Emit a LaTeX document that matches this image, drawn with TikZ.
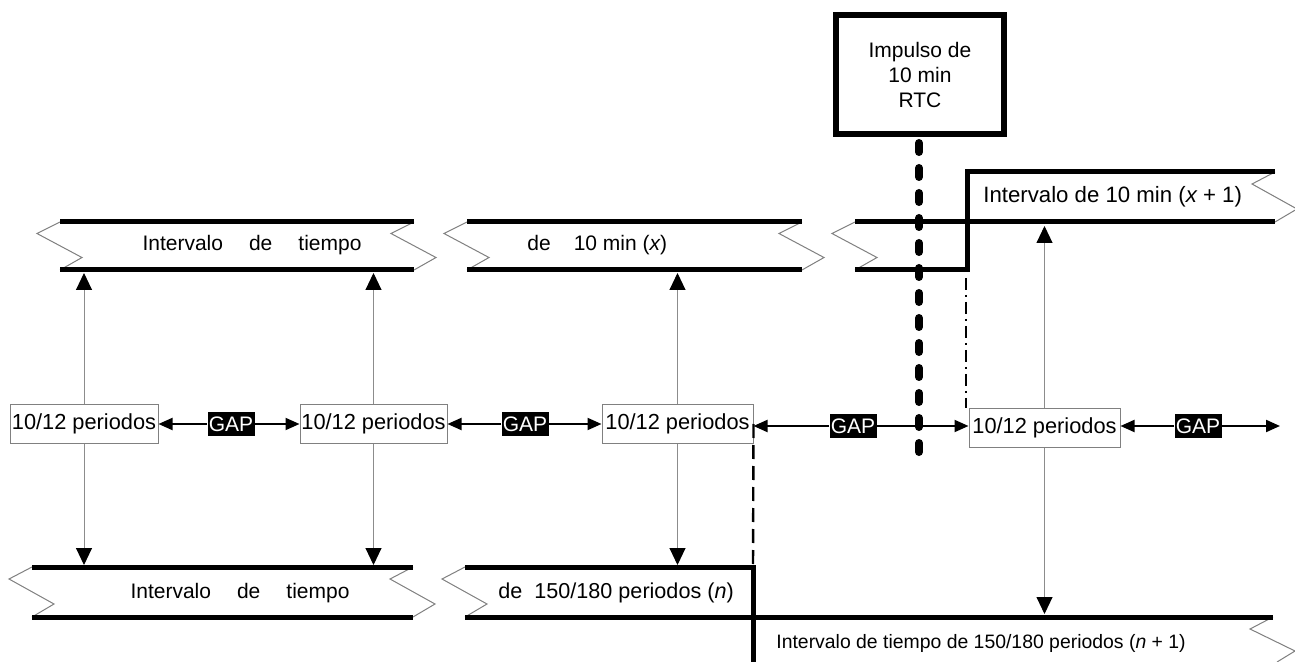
\documentclass[tikz,border=0pt]{standalone}
\usepackage{fontspec}
\setmainfont{Liberation Sans}
\usetikzlibrary{arrows.meta}

% torn-edge mark at one end of a time band: x, top y, bottom y
\newcommand\brkmark[3]{\draw[brk] (#1,#2) -- ({#1-23},{#2+0.24*(#3-#2)}) -- ({#1+22},{#2+0.74*(#3-#2)}) -- (#1,#3);}

\begin{document}
\begin{tikzpicture}[x=0.5pt,y=-0.5pt,
  every node/.style={font=\fontsize{10.5}{12.5}\selectfont, inner sep=0pt},
  band/.style={line width=2.5pt, line join=miter},
  brk/.style={draw=black!50, line width=0.5pt},
  period/.style={draw=black!50, line width=0.5pt, fill=white, minimum height=19pt, font=\fontsize{10.9}{12.5}\selectfont},
  gapbox/.style={fill=black, text=white, minimum width=23.5pt, minimum height=11.5pt},
  link/.style={draw=black!45, line width=0.5pt, -{Triangle[width=8pt,length=8.5pt,color=black]}},
  gaparrow/.style={line width=1pt, -{Triangle[width=6pt,length=7pt]}},
  pulse/.style={line width=4pt, line cap=round, dash pattern=on 4.5pt off 8pt},
  boundary/.style={line width=1.2pt, dash pattern=on 7pt off 3.5pt},
  stepmark/.style={line width=0.9pt, dash pattern=on 6pt off 2.5pt on 1pt off 2.5pt},
  rtcbox/.style={draw, line width=3pt, minimum width=84pt, minimum height=59.5pt, align=center}
]
\useasboundingbox (0,0) rectangle (1295,662);
\fill[white] (0,0) rectangle (1295,662);
\begin{scope}
\clip (0,0) rectangle (1295,662);

% ---- reference points on the band lines
\coordinate (aTop) at (0,273);   % lower edge of the upper bands
\coordinate (cTop) at (0,226);   % lower edge of band (x+1)
\coordinate (dTop) at (0,565);   % upper edge of the lower bands
\coordinate (fTop) at (0,614);   % upper edge of band (n+1)
\coordinate (eCorner) at (753,567);
\coordinate (cStep) at (966,278);
\coordinate (gEnd) at (1280,426);

% ---- upper row: 10 min intervals
\brkmark{60}{222}{270}  \brkmark{414}{222}{270}
\draw[band] (60,222) -- (414,222);
\draw[band] (60,270) -- (414,270);
\brkmark{467}{222}{270} \brkmark{802}{222}{270}
\draw[band] (467,222) -- (802,222);
\draw[band] (467,270) -- (802,270);
\brkmark{855}{222}{270} \brkmark{1275}{172}{222}
\draw[band] (855,222) -- (1275,222);
\draw[band] (855,270) -- (967,270) -- (967,172) -- (1275,172);

\node (tA) at (252,245) {Intervalo\hspace{13pt}de\hspace{13pt}tiempo};
\node[anchor=west] (tB) at (527,245) {de\hspace{11.5pt}10 min ({\itshape x})};
\node[anchor=west, font=\fontsize{11.1}{13}\selectfont] (tC) at (983,197) {Intervalo de 10 min ({\itshape x} + 1)};

% ---- lower row: 150/180 period intervals
\brkmark{32}{567}{617} \brkmark{413}{567}{617}
\draw[band] (32,567) -- (413,567);
\draw[band] (32,617) -- (413,617);
\brkmark{465}{567}{617}
\draw[brk] (1273,617) -- (1250,629) -- (1295,651) -- (1277,662);
\draw[band] (465,567) -- (eCorner) -- (753,670);
\draw[band] (465,617) -- (1273,617);

\node (tD) at (240,593) {Intervalo\hspace{13pt}de\hspace{13pt}tiempo};
\node[anchor=west, font=\fontsize{10.8}{13}\selectfont] (tE) at (498,593) {de\hspace{6pt}150/180 periodos ({\itshape n})};
\node[anchor=west, font=\fontsize{9.7}{12}\selectfont] (tF) at (776,643) {Intervalo de tiempo de 150/180 periodos ({\itshape n} + 1)};

% ---- measurement periods
\node[period, minimum width=74pt]   (p1) at (84,424)     {10/12 periodos};
\node[period, minimum width=73.5pt] (p2) at (373.5,424)  {10/12 periodos};
\node[period, minimum width=75.5pt] (p3) at (677.5,424)  {10/12 periodos};
\node[period, minimum width=75.5pt] (p4) at (1044.5,428) {10/12 periodos};

% boundary of period interval n
\draw[boundary] (p3.east) -- (eCorner);
% start of interval x+1
\draw[stepmark] (cStep) -- (cStep |- p4.north);

% links from periods to intervals
\draw[link] (p1.north) -- (p1.north |- aTop);
\draw[link] (p2.north) -- (p2.north |- aTop);
\draw[link] (p3.north) -- (p3.north |- aTop);
\draw[link] (p4.north) -- (p4.north |- cTop);
\draw[link] (p1.south) -- (p1.south |- dTop);
\draw[link] (p2.south) -- (p2.south |- dTop);
\draw[link] (p3.south) -- (p3.south |- dTop);
\draw[link] (p4.south) -- (p4.south |- fTop);

% gaps between periods
\node[gapbox] (g1) at (231,424)  {GAP};
\node[gapbox] (g2) at (525,424)  {GAP};
\node[gapbox] (g3) at (853,426)  {GAP};
\node[gapbox] (g4) at (1198,426) {GAP};
\draw[gaparrow] (g1.west) -- (p1.east);
\draw[gaparrow] (g1.east) -- (p2.west);
\draw[gaparrow] (g2.west) -- (p2.east);
\draw[gaparrow] (g2.east) -- (p3.west);
\draw[gaparrow] (g3.west) -- (p3.east |- g3.west);
\draw[gaparrow] (g3.east) -- (p4.west |- g3.east);
\draw[gaparrow] (g4.west) -- (p4.east |- g4.west);
\draw[gaparrow] (g4.east) -- (gEnd);

% ---- RTC pulse
\node[rtcbox] (rtc) at (920,74.5) {Impulso de\\10 min\\RTC};
\coordinate (rtcEnd) at (919,456);
\draw[pulse] ([yshift=-3pt]rtc.south -| rtcEnd) -- (rtcEnd);
\end{scope}
\end{tikzpicture}
\end{document}
